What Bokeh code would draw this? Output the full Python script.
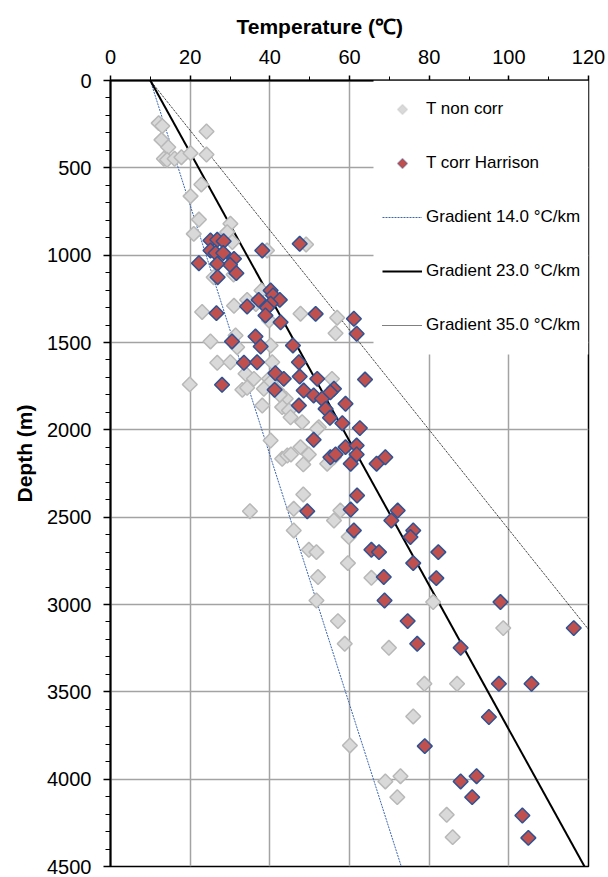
import math
from bokeh.plotting import figure
from bokeh.models import (Range1d, Legend, LegendItem, FixedTicker, PolyAnnotation,
                          BoxAnnotation, Title)
from bokeh.embed import file_html
from bokeh.resources import INLINE

# ---- data ----
T_nc = [12.1, 13.0, 24.1, 12.8, 14.5, 13.4, 14.2, 16.1, 17.8, 20.1, 24.1, 22.8, 20.1, 22.2, 20.9,
        30.1, 29.3, 30.6, 49.1, 39.3, 25.9, 30.9, 37.9, 34.3, 36.5, 31.0, 23.0, 47.7, 56.9, 56.5,
        39.8, 25.1, 31.4, 31.8, 40.2, 26.8, 30.1, 40.6, 19.9, 33.9, 36.0, 33.1, 34.3, 39.8, 40.2,
        38.1, 41.9, 44.0, 43.1, 44.8, 45.2, 48.1, 52.3, 40.2, 47.7, 43.1, 44.4, 45.3, 49.8, 48.4,
        54.4, 56.1, 55.6, 48.4, 35.0, 46.0, 57.7, 56.1, 46.0, 49.8, 51.7, 59.8, 59.6, 52.1, 51.7,
        57.1, 58.8, 65.5, 81.0, 98.6, 69.9, 78.8, 87.0, 76.0, 60.1, 69.0, 72.8, 72.0, 84.4, 85.9,
        51.9, 42.5, 38.5]
D_nc = [244, 261, 292, 340, 382, 448, 454, 448, 439, 416, 424, 595, 662, 796, 878,
        820, 868, 925, 939, 973, 1126, 1111, 1202, 1256, 1280, 1290, 1325, 1335, 1358, 1447,
        1374, 1494, 1460, 1527, 1517, 1616, 1613, 1613, 1740, 1679, 1708, 1771, 1759, 1708, 1727,
        1861, 1775, 1822, 1870, 1889, 1928, 1956, 1985, 2061, 2099, 2166, 2147, 2141, 2141, 2198,
        2194, 2157, 1708, 2370, 2466, 2452, 2462, 2519, 2576, 2687, 2700, 2613, 2763, 2843, 2977,
        3095, 3225, 2847, 2986, 3135, 3248, 3454, 3454, 3641, 3807, 4013, 3983, 4103, 4204, 4332,
        1994, 1800, 1765]

T_c = [25.1, 26.8, 28.4, 25.1, 26.4, 28.3, 31.0, 30.0, 22.2, 26.8, 31.6, 26.9, 38.1, 47.5,
       40.2, 40.8, 42.5, 37.2, 40.2, 34.3, 39.3, 26.6, 38.9, 51.5, 42.7, 61.1, 61.8, 30.5, 36.4,
       37.7, 45.8, 33.5, 36.8, 47.3, 28.0, 41.4, 43.5, 41.2, 47.5, 51.9, 48.5, 51.0, 53.1, 56.1,
       55.2, 47.3, 54.0, 55.1, 59.0, 58.2, 63.9, 62.6, 51.0, 55.2, 56.5, 59.0, 60.3, 61.8, 61.8,
       66.8, 69.0, 61.9, 49.4, 60.3, 72.1, 70.5, 61.1, 76.0, 75.3, 65.5, 67.4, 82.3, 76.0, 68.6,
       81.8, 68.8, 97.9, 74.6, 116.3, 77.0, 87.9, 97.5, 105.7, 95.0, 78.9, 87.9, 91.9, 90.8,
       103.4, 104.9]
D_c = [916, 912, 920, 973, 988, 988, 1021, 1055, 1046, 1050, 1103, 1126, 973, 935,
       1202, 1231, 1256, 1256, 1278, 1294, 1301, 1332, 1345, 1336, 1384, 1364, 1450, 1494, 1466,
       1523, 1517, 1616, 1613, 1613, 1742, 1676, 1708, 1771, 1695, 1708, 1775, 1803, 1822, 1765,
       1785, 1861, 1880, 1931, 1851, 1962, 1712, 1990, 2057, 2157, 2141, 2099, 2194, 2090, 2141,
       2194, 2157, 2376, 2466, 2456, 2462, 2519, 2576, 2576, 2614, 2687, 2700, 2700, 2763, 2843,
       2849, 2977, 2986, 3095, 3135, 3225, 3248, 3454, 3454, 3644, 3811, 4013, 3983, 4103,
       4208, 4336]

grad_depth = [0, 4500]
g14_T = [10, 73]
g23_T = [10, 119]
g35_T = [10, 167.5]

x_ticks = [0, 20, 40, 60, 80, 100, 120]
x_minor = list(range(0, 121, 10))
y_ticks = [0, 500, 1000, 1500, 2000, 2500, 3000, 3500, 4000, 4500]
y_minor = list(range(0, 4501, 100))

FONT = "Liberation Sans"
GRAY_FILL, GRAY_LINE = "#d9d9d9", "#b8b8b8"
RED_FILL, RED_LINE = "#c0504d", "#2e5395"

FL, FT, FW, FH = 110, 80, 478, 786   # frame left, top, width, height (px)
X0, X1, Y0, Y1 = 0, 120, 0, 4500

p = figure(width=608, height=877, x_range=Range1d(X0, X1), y_range=Range1d(Y1, Y0),
           x_axis_location="above", output_backend="svg", toolbar_location=None,
           min_border_left=FL, min_border_top=FT, min_border_right=608 - FL - FW,
           min_border_bottom=877 - FT - FH)

p.outline_line_color = "black"
p.outline_line_width = 1.5

for ax in (p.xaxis[0], p.yaxis[0]):
    ax.axis_line_width = 2
    ax.axis_line_color = "black"
    ax.major_tick_in = 0
    ax.minor_tick_in = 0
    ax.major_tick_line_width = 1.5
    ax.minor_tick_line_width = 1
    ax.major_tick_line_color = "black"
    ax.minor_tick_line_color = "black"
    ax.major_label_text_font = FONT
    ax.major_label_text_font_size = "20px"
    ax.major_label_text_color = "black"

p.xaxis.major_tick_out = 5
p.xaxis.minor_tick_out = 4
p.yaxis.major_tick_out = 7
p.yaxis.minor_tick_out = 5
p.xaxis.ticker = FixedTicker(ticks=x_ticks, minor_ticks=x_minor)
p.yaxis.ticker = FixedTicker(ticks=y_ticks, minor_ticks=y_minor)
p.xaxis.major_label_standoff = 12
p.yaxis.major_label_standoff = 12

# axis titles (placed as titles so they can sit off-centre like the reference)
p.add_layout(Title(text="Temperature (℃)", align="left", offset=126, standoff=18,
                   text_font=FONT, text_font_style="bold", text_font_size="21px",
                   text_color="black"), "above")
p.add_layout(Title(text="Depth (m)", align="left", offset=364, standoff=18,
                   text_font=FONT, text_font_style="bold", text_font_size="21px",
                   text_color="black"), "left")

p.xgrid.ticker = FixedTicker(ticks=x_ticks)
p.ygrid.ticker = FixedTicker(ticks=y_ticks)
for g in (p.xgrid[0], p.ygrid[0]):
    g.grid_line_color = "#a3a3a3"
    g.grid_line_width = 1.5

r14 = p.line(g14_T, grad_depth, line_color="#3a66b0", line_width=1, line_dash="2 1")
r23 = p.line(g23_T, grad_depth, line_color="black", line_width=2)
r35 = p.line(g35_T, grad_depth, line_color="black", line_width=1, line_dash="1 1")

rnc = p.scatter(T_nc, D_nc, marker="square", size=10.5, angle=math.pi / 4,
                fill_color=GRAY_FILL, line_color=GRAY_LINE, line_width=1.5)
rc = p.scatter(T_c, D_c, marker="square", size=10.5, angle=math.pi / 4,
               fill_color=RED_FILL, line_color=RED_LINE, line_width=1.5)

# invisible stand-ins so the legend reserves rows for the marker entries
lnc = p.scatter([], [], marker="square", fill_alpha=0, line_alpha=0)
lc = p.scatter([], [], marker="square", fill_alpha=0, line_alpha=0)


def px_to_x(px):
    return X0 + (px - FL) / FW * (X1 - X0)


def px_to_y(py):
    return Y0 + (py - FT) / FH * (Y1 - Y0)


# white legend panel (covers the grid behind the legend)
p.add_layout(BoxAnnotation(left=px_to_x(373), right=X1, top=px_to_y(FT), bottom=px_to_y(354),
                           fill_color="white", fill_alpha=1.0, line_alpha=0,
                           level="annotation"))

PAD, GW, ROW, SP = 9, 40, 40, 14
n_items = 5
content_h = n_items * ROW + (n_items - 1) * SP
content_left = 382 - FL          # px from frame left
content_top = 89 - FT            # px from frame top

# diamond symbols for the two marker rows of the legend
hs = 5
cx = FL + content_left + GW / 2
for i, (fc, lcol) in enumerate([(GRAY_FILL, GRAY_LINE), (RED_FILL, RED_LINE)]):
    cy = FT + content_top + ROW / 2 + i * (ROW + SP)
    xs = [px_to_x(cx), px_to_x(cx + hs), px_to_x(cx), px_to_x(cx - hs)]
    ys = [px_to_y(cy - hs), px_to_y(cy), px_to_y(cy + hs), px_to_y(cy)]
    p.add_layout(PolyAnnotation(xs=xs, ys=ys, level="annotation",
                                fill_color=fc, fill_alpha=1, line_color=lcol, line_width=1.5))

legend = Legend(items=[
    LegendItem(label="T non corr", renderers=[lnc]),
    LegendItem(label="T corr Harrison", renderers=[lc]),
    LegendItem(label="Gradient 14.0 °C/km", renderers=[r14]),
    LegendItem(label="Gradient 23.0 °C/km", renderers=[r23]),
    LegendItem(label="Gradient 35.0 °C/km", renderers=[r35]),
], location=(content_left, FH - content_top - content_h), orientation="vertical",
    glyph_width=GW, glyph_height=ROW, label_height=ROW, spacing=SP, padding=PAD,
    label_standoff=4, label_width=150, margin=0,
    label_text_font=FONT, label_text_font_size="17px", label_text_color="black",
    background_fill_alpha=0.0, border_line_color=None)
p.add_layout(legend)

open("out.html", "w").write(file_html(p, INLINE))
